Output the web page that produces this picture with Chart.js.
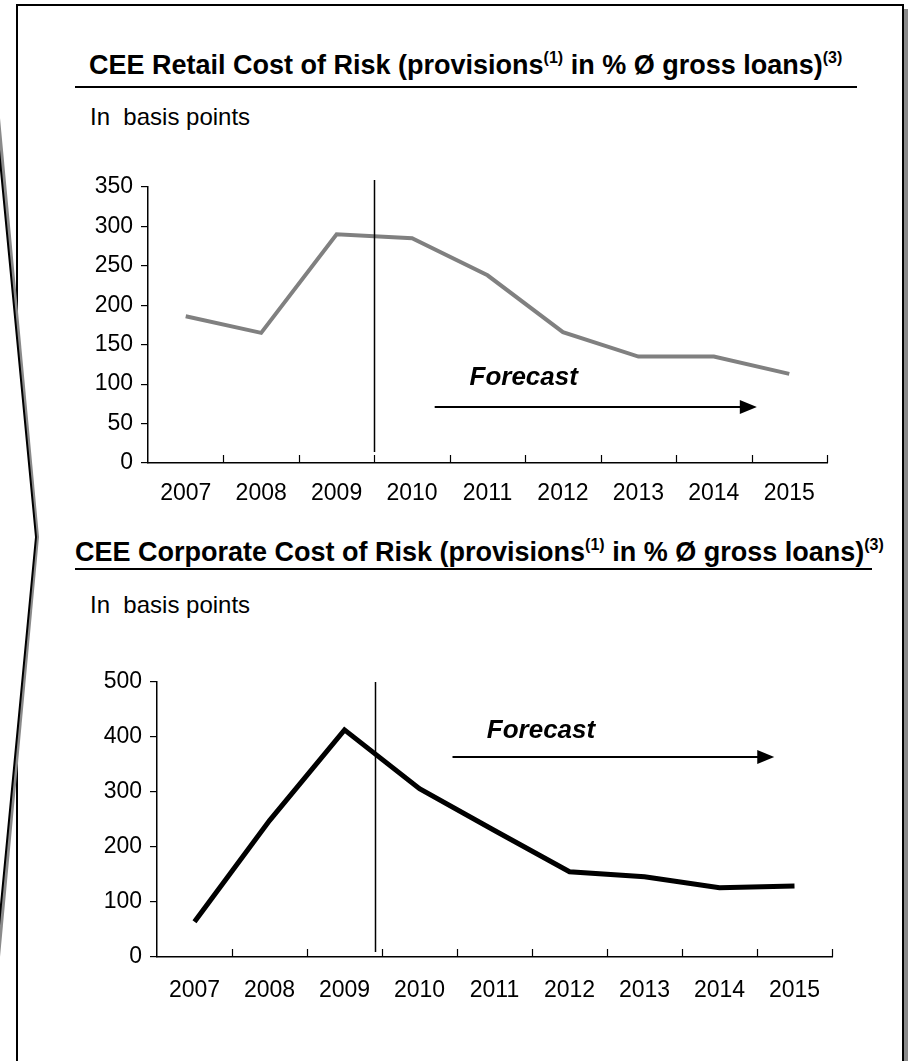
<!DOCTYPE html>
<html><head><meta charset="utf-8">
<script src="https://cdn.jsdelivr.net/npm/chart.js@4/dist/chart.umd.min.js"></script>
<style>
html,body{margin:0;padding:0;background:#fff;}
body{width:908px;height:1061px;position:relative;overflow:hidden;font-family:"Liberation Sans",Arial,sans-serif;color:#000;}
#frame{position:absolute;left:0;top:0;}
.t{position:absolute;white-space:pre;line-height:1;color:#000;}
.title{font-weight:bold;font-size:27px;}
.title .s{font-size:16px;position:relative;top:-11px;}
.sub{font-size:24px;}
.rule{position:absolute;height:2px;background:#000;}
canvas{position:absolute;left:0;}
</style></head>
<body>
<svg id="frame" width="908" height="1061" xmlns="http://www.w3.org/2000/svg">
  <rect x="21" y="9" width="890" height="1100" fill="#8a8a8a"/>
  <rect x="17" y="5" width="886" height="1100" fill="#fff" stroke="#000" stroke-width="2"/>
  <polygon points="0,118 39,537 0,957" fill="#8a8a8a"/>
  <polygon points="-4,118 36,537 -4,957" fill="#fff" stroke="#000" stroke-width="2" stroke-linejoin="round"/>
</svg>

<div class="t title" style="left:89px;top:52px">CEE Retail Cost of Risk (provisions<span class="s">(1)</span> in % Ø gross loans)<span class="s">(3)</span></div>
<div class="rule" style="left:75px;top:86px;width:782px"></div>
<div class="t sub" style="left:90px;top:105px">In  basis points</div>
<canvas id="c1" width="908" height="370" style="top:150px"></canvas>

<div class="t title" style="left:75px;top:539px">CEE Corporate Cost of Risk (provisions<span class="s">(1)</span> in % Ø gross loans)<span class="s">(3)</span></div>
<div class="rule" style="left:75px;top:568px;width:797px"></div>
<div class="t sub" style="left:90px;top:593px">In  basis points</div>
<canvas id="c2" width="908" height="400" style="top:640px"></canvas>

<script>
// ---- data ----
const years = ['2007','2008','2009','2010','2011','2012','2013','2014','2015'];
const retailCostOfRisk = [186,165,290,285,238,166,135,135,113];
const corporateCostOfRisk = [64,248,413,306,230,155,146,126,129];
const retailYTicks = [0,50,100,150,200,250,300,350];
const corporateYTicks = [0,100,200,300,400,500];
const forecastLabel = 'Forecast';

Chart.defaults.font.family = '"Liberation Sans", Arial, sans-serif';
Chart.defaults.color = '#000';

const overlay = {
  id: 'overlay',
  afterDatasetsDraw(chart, args, o) {
    const {ctx} = chart;
    const x = chart.scales.x, y = chart.scales.y;
    ctx.save();
    // inward tick marks on the category axis, at category boundaries
    ctx.strokeStyle = '#000';
    ctx.lineWidth = 1.2;
    for (let k = 1; k <= years.length; k++) {
      const px = Math.round(x.getPixelForValue(k - 0.5)) + 0.5;
      ctx.beginPath();
      ctx.moveTo(px, y.bottom);
      ctx.lineTo(px, y.bottom - 8);
      ctx.stroke();
    }
    // divider between actuals and forecast
    const dx = Math.round(x.getPixelForValue(o.divider.x)) + 0.5;
    ctx.lineWidth = 1.5;
    ctx.beginPath();
    ctx.moveTo(dx, y.getPixelForValue(o.divider.from));
    ctx.lineTo(dx, y.getPixelForValue(o.divider.to));
    ctx.stroke();
    // arrow
    const ax1 = x.getPixelForValue(o.arrow.from), ax2 = x.getPixelForValue(o.arrow.to);
    const ay = Math.round(y.getPixelForValue(o.arrow.y));
    ctx.lineWidth = 2;
    ctx.beginPath();
    ctx.moveTo(ax1, ay);
    ctx.lineTo(ax2 - 14, ay);
    ctx.stroke();
    ctx.fillStyle = '#000';
    ctx.beginPath();
    ctx.moveTo(ax2, ay);
    ctx.lineTo(ax2 - 17, ay - 7);
    ctx.lineTo(ax2 - 17, ay + 7);
    ctx.closePath();
    ctx.fill();
    // label
    ctx.font = 'italic bold 26px "Liberation Sans", Arial, sans-serif';
    ctx.textAlign = 'center';
    ctx.textBaseline = 'middle';
    ctx.fillText(forecastLabel, x.getPixelForValue(o.text.x), y.getPixelForValue(o.text.y));
    ctx.restore();
  }
};

function makeChart(id, values, yTicks, color, width, geo, ann) {
  return new Chart(document.getElementById(id), {
    type: 'line',
    data: {
      labels: years,
      datasets: [{
        data: values,
        borderColor: color,
        borderWidth: width,
        pointRadius: 0,
        tension: 0,
        fill: false,
        borderJoinStyle: 'miter'
      }]
    },
    options: {
      responsive: false,
      animation: false,
      devicePixelRatio: 1,
      events: [],
      layout: {padding: {left: 0, right: geo.padRight, top: geo.padTop, bottom: 0}},
      plugins: {legend: {display: false}, tooltip: {enabled: false}, title: {display: false}, overlay: ann},
      scales: {
        x: {
          type: 'category',
          offset: true,
          grid: {display: false},
          border: {display: true, color: '#000', width: 1.5},
          ticks: {font: {size: 23}, padding: geo.xPad, maxRotation: 0, autoSkip: false, color: '#000'},
          afterFit(s) { s.height = geo.xHeight; }
        },
        y: {
          min: yTicks[0],
          max: yTicks[yTicks.length - 1],
          afterBuildTicks(s) { s.ticks = yTicks.map(v => ({value: v})); },
          grid: {display: true, drawOnChartArea: false, drawTicks: true, tickLength: 7, color: '#000', lineWidth: 1.2},
          border: {display: true, color: '#000', width: 1.5},
          ticks: {font: {size: 23}, padding: 8, color: '#000'},
          afterFit(s) { s.width = geo.yWidth; }
        }
      }
    },
    plugins: [overlay]
  });
}

makeChart('c1', retailCostOfRisk, retailYTicks, '#808080', 4,
  {padRight: 81, padTop: 37, xHeight: 57, xPad: 9, yWidth: 148},
  {divider: {x: 2.5, from: 14, to: 359}, arrow: {from: 3.3, to: 7.57, y: 71}, text: {x: 4.48, y: 108}});

makeChart('c2', corporateCostOfRisk, corporateYTicks, '#000000', 5,
  {padRight: 76, padTop: 42, xHeight: 83, xPad: 12, yWidth: 157},
  {divider: {x: 2.4, from: 9, to: 500}, arrow: {from: 3.44, to: 7.73, y: 364}, text: {x: 4.62, y: 411}});
</script>
</body></html>
